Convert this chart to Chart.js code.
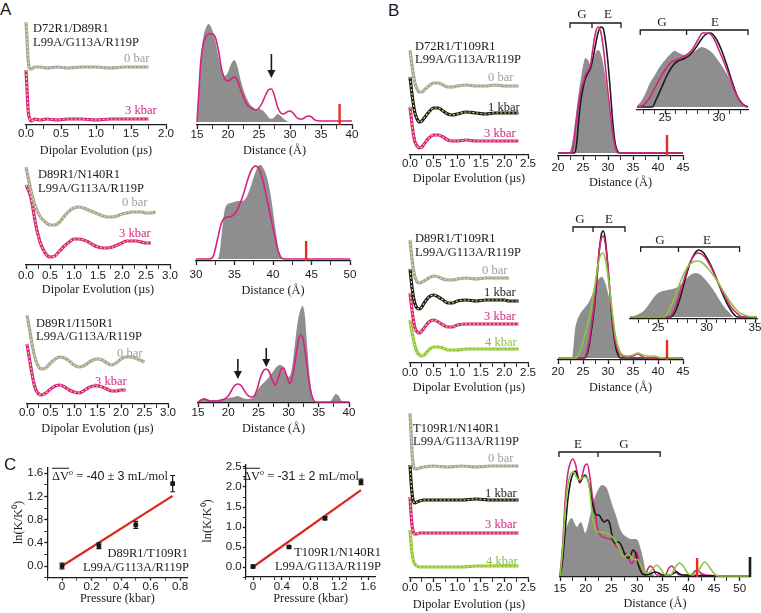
<!DOCTYPE html>
<html>
<head>
<meta charset="utf-8">
<script src="https://cdn.jsdelivr.net/npm/chart.js@4.4.0/dist/chart.umd.min.js"></script>
<style>
  html, body { margin: 0; padding: 0; background: #fff; }
  #fig { position: relative; width: 761px; height: 613px; overflow: hidden; }
  #fig canvas { position: absolute; }
  .t { position: absolute; white-space: nowrap; line-height: 1; font-family: "Liberation Serif", "Times New Roman", serif; font-size: 12.5px; color: #1a1a1a; }
  .panel { font-family: "Liberation Sans", Arial, sans-serif; font-size: 17px; }
  .sans { font-family: "Liberation Sans", Arial, sans-serif; }
  .t sup { font-size: 8px; vertical-align: 5px; line-height: 0; }
</style>
</head>
<body>
<div id="fig"></div>
<script>
// ---------- data ----------
// A, D72R1/D89R1: dipolar evolution (us) and offset echo traces
const a1T = [0, 0.015, 0.03, 0.05, 0.08, 0.12, 0.2, 0.3, 0.45, 0.6, 0.8, 1.0, 1.2, 1.4, 1.6, 1.75];
const a1Bar0 = [1.03, 0.85, 0.65, 0.57, 0.56, 0.58, 0.58, 0.57, 0.58, 0.57, 0.58, 0.58, 0.57, 0.58, 0.58, 0.58];
const a1Kbar3 = [0.55, 0.35, 0.15, 0.07, 0.04, 0.06, 0.05, 0.06, 0.05, 0.06, 0.06, 0.05, 0.06, 0.06, 0.06, 0.06];
// distance distributions (A)
const a1GrayR = [15, 15.3, 15.6, 16, 16.5, 16.9, 17.4, 18, 18.5, 19, 19.5, 20, 20.5, 21, 21.5, 22, 22.5, 23, 23.5, 24, 24.5, 25, 25.5, 26, 26.5, 27, 27.5, 28, 28.5, 29, 29.5, 30, 40];
const a1GrayP = [0, 0.3, 0.62, 0.84, 0.95, 0.98, 0.93, 0.8, 0.64, 0.52, 0.46, 0.5, 0.58, 0.62, 0.56, 0.43, 0.32, 0.24, 0.18, 0.15, 0.13, 0.13, 0.12, 0.09, 0.05, 0.03, 0.05, 0.08, 0.06, 0.03, 0.01, 0, 0];
const a1PinkR = [15, 15.3, 15.6, 16, 16.5, 17, 17.5, 18, 18.5, 19, 19.5, 20, 20.5, 21, 21.5, 22, 22.5, 23, 23.5, 24, 24.5, 25, 25.5, 26, 26.5, 27, 27.5, 28, 28.5, 29, 29.5, 30, 30.5, 31, 31.5, 32, 32.5, 33, 33.5, 34, 35, 40];
const a1PinkP = [0, 0.3, 0.6, 0.78, 0.86, 0.88, 0.88, 0.84, 0.7, 0.52, 0.43, 0.41, 0.43, 0.45, 0.42, 0.33, 0.25, 0.18, 0.15, 0.13, 0.12, 0.14, 0.19, 0.26, 0.32, 0.33, 0.26, 0.15, 0.09, 0.08, 0.1, 0.11, 0.09, 0.05, 0.03, 0.03, 0.05, 0.06, 0.05, 0.02, 0.01, 0.01];
const a1Arrows = [27];
const a1Ca = 38;

// A, D89R1/N140R1
const a2T = [0, 0.1, 0.2, 0.3, 0.4, 0.5, 0.6, 0.7, 0.8, 0.9, 1.0, 1.1, 1.2, 1.3, 1.4, 1.5, 1.6, 1.7, 1.8, 1.9, 2.0, 2.1, 2.2, 2.3, 2.4, 2.5, 2.6, 2.7];
const a2Bar0 = [0.98, 0.75, 0.58, 0.48, 0.43, 0.40, 0.40, 0.43, 0.49, 0.54, 0.57, 0.58, 0.57, 0.55, 0.53, 0.51, 0.49, 0.48, 0.48, 0.49, 0.51, 0.52, 0.53, 0.53, 0.53, 0.52, 0.52, 0.53];
const a2Kbar3 = [0.80, 0.68, 0.41, 0.22, 0.12, 0.08, 0.09, 0.14, 0.19, 0.23, 0.26, 0.26, 0.25, 0.23, 0.20, 0.18, 0.17, 0.17, 0.18, 0.20, 0.22, 0.24, 0.24, 0.24, 0.23, 0.22, 0.22];
const a2GrayR = [30, 32.8, 33.1, 33.4, 33.7, 34, 34.5, 35, 35.5, 36, 36.5, 37, 37.5, 38, 38.4, 38.8, 39.2, 39.6, 40, 40.4, 40.8, 41.2, 50];
const a2GrayP = [0, 0, 0.08, 0.3, 0.48, 0.54, 0.56, 0.57, 0.58, 0.58, 0.61, 0.7, 0.82, 0.92, 0.94, 0.9, 0.82, 0.68, 0.48, 0.25, 0.07, 0, 0];
const a2PinkR = [30, 31.8, 32.3, 32.8, 33.3, 33.7, 34.2, 34.7, 35.2, 35.7, 36.2, 36.7, 37.2, 37.7, 38.2, 38.7, 39.2, 39.7, 40.2, 40.6, 41, 41.5, 50];
const a2PinkP = [0, 0, 0.04, 0.2, 0.36, 0.41, 0.42, 0.43, 0.47, 0.55, 0.66, 0.79, 0.89, 0.93, 0.9, 0.78, 0.6, 0.42, 0.24, 0.1, 0.02, 0, 0];
const a2Ca = 44.3;

// A, D89R1/I150R1
const a3T = [0, 0.05, 0.1, 0.15, 0.2, 0.25, 0.3, 0.4, 0.5, 0.6, 0.7, 0.8, 0.9, 1.0, 1.1, 1.2, 1.3, 1.4, 1.5, 1.6, 1.7, 1.8, 1.9, 2.0, 2.1, 2.2, 2.3, 2.4, 2.5];
const a3Bar0 = [0.89, 0.76, 0.62, 0.50, 0.42, 0.37, 0.35, 0.36, 0.41, 0.45, 0.47, 0.46, 0.43, 0.39, 0.37, 0.38, 0.41, 0.44, 0.45, 0.44, 0.41, 0.39, 0.41, 0.45, 0.47, 0.47, 0.46, 0.44, 0.42];
const a3Kbar3 = [0.60, 0.46, 0.32, 0.20, 0.13, 0.10, 0.09, 0.11, 0.15, 0.18, 0.19, 0.17, 0.14, 0.12, 0.11, 0.13, 0.16, 0.18, 0.18, 0.17, 0.15, 0.13, 0.13, 0.14, 0.14];
const a3GrayR = [15, 15.5, 16, 16.5, 17, 18, 19, 20, 21, 21.5, 22, 23, 24, 24.5, 25, 25.5, 26, 26.5, 27, 27.5, 28, 28.5, 29, 29.5, 30, 30.5, 31, 31.5, 32, 32.3, 32.7, 33, 33.5, 34, 34.5, 36.8, 37.3, 37.8, 38.3, 38.8, 40];
const a3GrayP = [0, 0.02, 0.04, 0.03, 0.02, 0.02, 0.03, 0.04, 0.05, 0.06, 0.05, 0.03, 0.04, 0.08, 0.13, 0.17, 0.2, 0.23, 0.27, 0.31, 0.35, 0.37, 0.36, 0.3, 0.25, 0.32, 0.55, 0.8, 0.93, 0.96, 0.86, 0.62, 0.25, 0.05, 0, 0, 0.04, 0.08, 0.06, 0.01, 0];
const a3PinkR = [15, 15.5, 16, 16.5, 17, 18, 19, 20, 20.5, 21, 21.6, 22.2, 22.7, 23.2, 23.8, 24.3, 24.8, 25.3, 25.8, 26.3, 26.8, 27.3, 27.8, 28.3, 28.8, 29.2, 29.7, 30.2, 30.7, 31.2, 31.6, 32, 32.4, 32.8, 33.2, 33.6, 34, 34.5, 40];
const a3PinkP = [0, 0.02, 0.03, 0.02, 0.01, 0.01, 0.02, 0.06, 0.11, 0.16, 0.18, 0.16, 0.11, 0.07, 0.05, 0.06, 0.13, 0.24, 0.31, 0.33, 0.3, 0.22, 0.17, 0.24, 0.33, 0.34, 0.26, 0.18, 0.27, 0.46, 0.61, 0.67, 0.63, 0.48, 0.28, 0.12, 0.04, 0, 0];
const a3Arrows = [21.6, 26.3];

// B, D72R1/T109R1
const b1T = [0, 0.05, 0.1, 0.15, 0.2, 0.25, 0.3, 0.4, 0.5, 0.6, 0.7, 0.8, 0.9, 1.0, 1.2, 1.4, 1.6, 1.8, 2.0, 2.3];
const b1Bar0 = [1.05, 0.87, 0.73, 0.66, 0.63, 0.63, 0.65, 0.69, 0.72, 0.72, 0.70, 0.68, 0.68, 0.69, 0.70, 0.69, 0.69, 0.70, 0.69, 0.69];
const b1Kbar1 = [0.78, 0.58, 0.43, 0.36, 0.33, 0.34, 0.37, 0.43, 0.47, 0.47, 0.44, 0.41, 0.40, 0.41, 0.43, 0.42, 0.41, 0.42, 0.42, 0.42];
const b1Kbar3 = [0.48, 0.28, 0.14, 0.09, 0.07, 0.08, 0.11, 0.17, 0.20, 0.20, 0.18, 0.15, 0.14, 0.14, 0.15, 0.14, 0.14, 0.14, 0.14, 0.14];
const b1GrayR = [20, 22.2, 22.6, 23, 23.5, 24, 24.5, 25, 25.5, 26, 26.5, 27, 27.5, 28, 28.5, 29, 29.5, 30, 30.5, 31, 31.5, 32, 32.5, 45];
const b1GrayP = [0, 0, 0.05, 0.15, 0.35, 0.55, 0.72, 0.87, 0.95, 0.93, 0.88, 0.92, 1.0, 1.03, 1.0, 0.9, 0.75, 0.55, 0.35, 0.2, 0.08, 0.02, 0, 0];
const b1BlackR = [20, 23.3, 23.7, 24.1, 24.5, 25, 25.5, 26, 26.5, 27, 27.5, 28, 28.5, 29, 29.5, 30, 30.5, 31, 31.5, 32, 32.5, 45];
const b1BlackP = [0, 0, 0.08, 0.3, 0.5, 0.65, 0.75, 0.8, 0.85, 0.95, 1.08, 1.2, 1.26, 1.25, 1.12, 0.9, 0.6, 0.28, 0.08, 0.01, 0, 0];
const b1PinkR = [20, 22.7, 23.1, 23.5, 24, 24.5, 25, 25.5, 26, 26.5, 27, 27.5, 28, 28.5, 29, 29.5, 30, 30.5, 31, 31.5, 32, 45];
const b1PinkP = [0, 0, 0.08, 0.25, 0.45, 0.6, 0.7, 0.78, 0.82, 0.88, 1.05, 1.2, 1.26, 1.22, 1.08, 0.85, 0.6, 0.38, 0.18, 0.05, 0, 0];
const b1InGrayR = [22.4, 22.8, 23.2, 23.6, 24, 24.5, 25, 25.5, 25.9, 26.3, 26.8, 27.3, 27.8, 28.4, 28.9, 29.4, 29.9, 30.4, 30.9, 31.4, 31.9, 32.3, 32.7];
const b1InGrayP = [0.01, 0.06, 0.14, 0.24, 0.31, 0.4, 0.47, 0.53, 0.56, 0.54, 0.52, 0.53, 0.56, 0.6, 0.58, 0.54, 0.47, 0.39, 0.3, 0.19, 0.08, 0.03, 0.01];
const b1InPinkR = [22.4, 23, 23.5, 24, 24.5, 25, 25.5, 26, 26.5, 27, 27.5, 28, 28.5, 29, 29.5, 30, 30.5, 31, 31.5, 32, 32.4, 32.7];
const b1InPinkP = [0, 0.02, 0.08, 0.18, 0.28, 0.37, 0.44, 0.47, 0.49, 0.52, 0.57, 0.66, 0.74, 0.74, 0.69, 0.57, 0.44, 0.3, 0.15, 0.05, 0.01, 0];
const b1InBlackR = [22.4, 23.8, 24.2, 24.7, 25.2, 25.7, 26.2, 26.7, 27.2, 27.7, 28.2, 28.7, 29.2, 29.7, 30.2, 30.7, 31.2, 31.7, 32.2, 32.7];
const b1InBlackP = [0, 0, 0.08, 0.2, 0.32, 0.41, 0.46, 0.48, 0.51, 0.57, 0.65, 0.72, 0.74, 0.69, 0.58, 0.43, 0.26, 0.11, 0.03, 0];
const b1Ca = 41.8;
const b1Bracket = [22.4, 26.8, 32.6];
const b1InBracket = [22.7, 27.0, 32.7];

// B, D89R1/T109R1
const b2T = [0, 0.05, 0.1, 0.15, 0.2, 0.25, 0.3, 0.4, 0.5, 0.6, 0.7, 0.8, 0.9, 1.0, 1.2, 1.4, 1.6, 1.8, 2.0, 2.1, 2.3];
const b2Bar0 = [1.23, 1.01, 0.87, 0.81, 0.80, 0.81, 0.82, 0.85, 0.87, 0.86, 0.84, 0.83, 0.83, 0.84, 0.85, 0.84, 0.85, 0.85, 0.85, 0.85];
const b2Kbar1 = [0.94, 0.73, 0.60, 0.55, 0.54, 0.56, 0.60, 0.66, 0.68, 0.66, 0.63, 0.60, 0.60, 0.62, 0.63, 0.62, 0.63, 0.63, 0.63, 0.62, 0.62];
const b2Kbar3 = [0.70, 0.50, 0.36, 0.31, 0.30, 0.32, 0.35, 0.41, 0.43, 0.41, 0.38, 0.36, 0.36, 0.38, 0.39, 0.39, 0.39, 0.39, 0.39, 0.39, 0.39];
const b2Kbar4 = [0.43, 0.29, 0.18, 0.11, 0.08, 0.07, 0.08, 0.13, 0.16, 0.16, 0.15, 0.13, 0.13, 0.13, 0.14, 0.14, 0.14, 0.14, 0.14, 0.14, 0.14];
const b2GrayR = [20, 22.8, 23.1, 23.4, 23.8, 24.3, 24.8, 25.3, 25.8, 26.3, 26.8, 27.3, 27.8, 28.3, 28.8, 29.3, 29.8, 30.3, 30.8, 31.3, 31.8, 32.3, 32.8, 45];
const b2GrayP = [0, 0, 0.12, 0.28, 0.37, 0.43, 0.47, 0.5, 0.53, 0.57, 0.63, 0.7, 0.76, 0.8, 0.81, 0.77, 0.69, 0.58, 0.43, 0.25, 0.1, 0.03, 0, 0];
const b2BlackR = [20, 25.3, 25.8, 26.3, 26.8, 27.3, 27.8, 28.3, 28.8, 29.1, 29.5, 30, 30.5, 31, 31.5, 32, 32.5, 45];
const b2BlackP = [0, 0, 0.04, 0.15, 0.32, 0.52, 0.8, 1.1, 1.26, 1.27, 1.17, 0.9, 0.58, 0.3, 0.12, 0.03, 0, 0];
const b2PinkR = [20, 25.2, 25.7, 26.2, 26.7, 27.2, 27.7, 28.2, 28.7, 29.1, 29.5, 30, 30.5, 31, 31.5, 32, 32.5, 33.5, 35, 36, 37, 38, 45];
const b2PinkP = [0, 0, 0.05, 0.16, 0.33, 0.52, 0.78, 1.05, 1.2, 1.22, 1.13, 0.9, 0.6, 0.34, 0.16, 0.07, 0.03, 0.01, 0.02, 0.04, 0.01, 0, 0];
const b2GreenR = [20, 23.6, 24, 24.5, 25, 25.5, 26, 26.5, 27, 27.5, 28, 28.5, 29, 29.5, 30, 30.5, 31, 31.5, 32, 32.5, 33, 34, 35, 36, 37, 38, 39, 40, 41, 45];
const b2GreenP = [0, 0, 0.02, 0.08, 0.16, 0.25, 0.35, 0.46, 0.6, 0.77, 0.93, 1.03, 1.05, 0.98, 0.82, 0.62, 0.4, 0.22, 0.12, 0.05, 0.03, 0.02, 0.03, 0.05, 0.03, 0.02, 0.02, 0.01, 0, 0];
const b2InGrayR = [22.1, 22.5, 23, 23.5, 24, 24.5, 25, 25.5, 26, 26.5, 27, 27.5, 28, 28.5, 28.9, 29.4, 29.9, 30.4, 30.9, 31.4, 31.9, 32.4, 32.8, 35.2];
const b2InGrayP = [0, 0.01, 0.03, 0.06, 0.12, 0.19, 0.24, 0.26, 0.27, 0.28, 0.3, 0.34, 0.39, 0.43, 0.44, 0.42, 0.37, 0.31, 0.24, 0.16, 0.09, 0.04, 0, 0];
const b2InBlackR = [22.1, 26.3, 26.8, 27.3, 27.8, 28.3, 28.8, 29.2, 29.7, 30.2, 30.7, 31.2, 31.7, 32.2, 32.7, 33.2, 35.2];
const b2InBlackP = [0, 0, 0.06, 0.2, 0.38, 0.54, 0.64, 0.67, 0.64, 0.56, 0.46, 0.34, 0.22, 0.12, 0.04, 0, 0];
const b2InPinkR = [22.1, 26.1, 26.6, 27.1, 27.6, 28.1, 28.6, 29.1, 29.6, 30.1, 30.6, 31.1, 31.6, 32.1, 32.6, 33.1, 33.7, 35.2];
const b2InPinkP = [0, 0, 0.06, 0.19, 0.35, 0.5, 0.6, 0.64, 0.62, 0.56, 0.47, 0.36, 0.26, 0.17, 0.09, 0.04, 0, 0];
const b2InGreenR = [22.1, 25.6, 26.1, 26.6, 27.1, 27.6, 28.1, 28.6, 29.1, 29.6, 30.1, 30.6, 31.1, 31.6, 32.1, 32.6, 33.1, 33.6, 34.2, 35.2];
const b2InGreenP = [0, 0, 0.06, 0.17, 0.3, 0.42, 0.51, 0.55, 0.56, 0.54, 0.49, 0.43, 0.36, 0.28, 0.2, 0.13, 0.07, 0.03, 0.01, 0];
const b2Ca = 41.8;
const b2Bracket = [23.0, 27.0, 33.4];
const b2InBracket = [23.2, 27.1, 33.4];

// B, T109R1/N140R1
const b3T = [0, 0.02, 0.04, 0.06, 0.08, 0.1, 0.15, 0.2, 0.3, 0.5, 0.8, 1.1, 1.4, 1.7, 2.0, 2.3];
const b3Bar0 = [1.65, 1.48, 1.28, 1.16, 1.11, 1.09, 1.09, 1.10, 1.11, 1.12, 1.11, 1.12, 1.11, 1.12, 1.12, 1.12];
const b3Kbar1 = [1.13, 0.98, 0.86, 0.79, 0.76, 0.75, 0.76, 0.77, 0.78, 0.78, 0.78, 0.78, 0.79, 0.78, 0.78, 0.78];
const b3Kbar3 = [0.81, 0.66, 0.54, 0.48, 0.45, 0.44, 0.44, 0.45, 0.45, 0.45, 0.45, 0.45, 0.45, 0.45, 0.45, 0.45];
const b3Kbar4 = [0.48, 0.36, 0.26, 0.20, 0.16, 0.14, 0.12, 0.11, 0.11, 0.11, 0.11, 0.11, 0.12, 0.12, 0.12, 0.12];
const b3GrayR = [15, 15.5, 16, 16.5, 17, 17.3, 17.8, 18.3, 18.7, 19.1, 19.5, 19.9, 20.3, 20.8, 21.3, 21.8, 22.5, 23.2, 23.7, 24.1, 24.7, 25.3, 26, 26.5, 27.1, 28, 28.8, 29.6, 30.1, 30.6, 31.2, 31.9, 32.5, 33, 33.5, 40, 40.5, 41, 41.5, 42, 42.5, 43, 43.5, 44, 44.5, 52];
const b3GrayP = [0, 0.2, 0.43, 0.52, 0.57, 0.58, 0.53, 0.49, 0.52, 0.54, 0.49, 0.43, 0.48, 0.59, 0.7, 0.79, 0.87, 0.91, 0.9, 0.88, 0.79, 0.69, 0.59, 0.5, 0.43, 0.39, 0.37, 0.37, 0.36, 0.29, 0.17, 0.02, 0.03, 0.02, 0, 0, 0.02, 0.01, 0.02, 0.01, 0.02, 0.01, 0.01, 0.01, 0, 0];
const b3PinkR = [15, 15.5, 16, 16.5, 17, 17.5, 18, 18.5, 18.8, 19.3, 19.8, 20.3, 20.8, 21.3, 21.8, 22.2, 22.5, 23, 24, 24.5, 25.3, 25.8, 26.5, 27, 27.5, 28, 28.5, 29, 29.4, 29.9, 30.4, 31, 31.6, 32.2, 32.6, 33.2, 33.8, 35.5, 36.2, 36.8, 37.4, 38.2, 40.5, 41.3, 41.8, 42.4, 43.3, 52];
const b3PinkP = [0, 0.3, 0.75, 1.02, 1.13, 1.17, 1.12, 1.0, 0.93, 1.0, 1.1, 1.12, 1.0, 0.8, 0.66, 0.5, 0.44, 0.4, 0.38, 0.37, 0.36, 0.3, 0.28, 0.22, 0.22, 0.23, 0.16, 0.12, 0.16, 0.24, 0.14, 0.02, 0.02, 0.08, 0.1, 0.07, 0.01, 0.01, 0.08, 0.1, 0.06, 0.01, 0.01, 0.05, 0.06, 0.03, 0.01, 0];
const b3BlackR = [15, 15.5, 16, 16.5, 17, 17.5, 18, 18.5, 18.9, 19.4, 19.9, 20.3, 20.8, 21.3, 21.8, 22.2, 22.6, 23.1, 23.6, 24.2, 24.7, 25.3, 25.8, 26.4, 27, 27.6, 28.2, 28.7, 29.2, 29.7, 30.2, 30.8, 31.5, 32.5, 33.5, 34.2, 35, 36.5, 37.2, 37.7, 38.3, 39, 52];
const b3BlackP = [0, 0.15, 0.45, 0.75, 0.93, 1.02, 1.05, 0.98, 0.94, 0.98, 1.01, 0.98, 0.88, 0.73, 0.63, 0.61, 0.61, 0.57, 0.54, 0.56, 0.52, 0.36, 0.33, 0.34, 0.3, 0.22, 0.18, 0.2, 0.26, 0.23, 0.12, 0.04, 0.01, 0.02, 0.04, 0.03, 0.01, 0.01, 0.03, 0.04, 0.02, 0.01, 0];
const b3GreenR = [15, 15.5, 16, 16.5, 17, 17.6, 18.2, 18.8, 19.3, 19.8, 20.3, 20.8, 21.3, 21.8, 22.3, 23, 24, 25, 26, 26.5, 27, 27.6, 28.2, 28.7, 29.2, 30.2, 30.8, 31.4, 32.2, 33, 33.8, 34.6, 35.5, 36.5, 37.5, 38.3, 39, 40, 41, 42, 43.2, 44.2, 45.3, 46, 52];
const b3GreenP = [0, 0.25, 0.65, 0.9, 1.01, 1.04, 0.99, 0.96, 0.98, 0.99, 0.98, 0.85, 0.6, 0.48, 0.44, 0.44, 0.43, 0.4, 0.33, 0.28, 0.22, 0.19, 0.22, 0.2, 0.17, 0.16, 0.1, 0.04, 0.03, 0.07, 0.11, 0.07, 0.01, 0.01, 0.09, 0.13, 0.1, 0.02, 0.01, 0.06, 0.14, 0.08, 0.01, 0, 0];
const b3Ca = 41.7;
const b3End = 52;
const b3Bracket = [14.8, 22.4, 34.5];

// C, ln(K/K0) against pressure (kbar)
const c1P = [0, 0.25, 0.5, 0.75];
const c1LnK = [0.0, 0.35, 0.71, 1.42];
const c1Err = [0.05, 0.05, 0.06, 0.14];
const c1FitP = [0, 0.75];
const c1FitLnK = [0, 1.21];
const c2P = [0, 0.5, 1.0, 1.5];
const c2LnK = [0.01, 0.5, 1.22, 2.13];
const c2Err = [0.03, 0.03, 0.04, 0.07];
const c2FitP = [0, 1.5];
const c2FitLnK = [0, 1.92];

// tick labels
const ticksDip2 = [0, 0.5, 1.0, 1.5, 2.0];
const ticksDip25 = [0, 0.5, 1.0, 1.5, 2.0, 2.5];
const ticksDip3 = [0, 0.5, 1.0, 1.5, 2.0, 2.5, 3.0];
const ticksR1540 = [15, 20, 25, 30, 35, 40];
const ticksR3050 = [30, 35, 40, 45, 50];
const ticksR2045 = [20, 25, 30, 35, 40, 45];
const ticksR1550 = [15, 20, 25, 30, 35, 40, 45, 50];
const ticksIn1 = [25, 30];
const ticksIn2 = [25, 30, 35];
const ticksC1x = [0, 0.2, 0.4, 0.6, 0.8];
const ticksC1y = [0, 0.4, 0.8, 1.2, 1.6];
const ticksC2x = [0, 0.4, 0.8, 1.2, 1.6];
const ticksC2y = [0, 0.5, 1.0, 1.5, 2.0, 2.5];

// ---------- styling ----------
const SERIF = '"Liberation Serif", "Times New Roman", serif';
const SANS = '"Liberation Sans", Arial, sans-serif';
const TICK = 11.6;
const COL = {
  gray: '#a3a3a3', pink: '#d6237f', black: '#1b1b1b', green: '#8cc63e',
  fill: '#8e8e8e', red: '#e0301e', fit: '#ece86c', ink: '#1a1a1a'
};
const fig = document.getElementById('fig');

function pts(xs, ys) {
  return ys.map((y, i) => ({ x: xs[i], y }));
}
function minorOf(major, step, lo, hi) {
  const out = [];
  for (let v = lo; v <= hi + 1e-9; v += step) {
    const r = Math.round(v * 1000) / 1000;
    if (!major.some(m => Math.abs(m - r) < 1e-6)) out.push(r);
  }
  return out;
}

// thick data trace with the dashed fit on top
function trace(xs, ys, color) {
  return [
    { data: pts(xs, ys), borderColor: COL.fit, borderWidth: 1.1, borderDash: [2, 2], order: 1 },
    { data: pts(xs, ys), borderColor: color, borderWidth: 3.2, order: 2 }
  ];
}
function area(xs, ys) {
  return { data: pts(xs, ys), fill: 'origin', backgroundColor: COL.fill, borderWidth: 0, order: 9 };
}
function curve(xs, ys, color, order) {
  return { data: pts(xs, ys), borderColor: color, borderWidth: 1.6, order: order || 3 };
}
function mark(x, y0, y1, color, w) {
  return { data: [{ x, y: y0 }, { x, y: y1 }], borderColor: color, borderWidth: w || 2.4, order: 0 };
}

// brackets, arrows and error bars, all placed through the chart scales
const extras = {
  id: 'extras',
  afterDatasetsDraw(chart, args, o) {
    const { ctx } = chart;
    const xs = chart.scales.x, ys = chart.scales.y;
    ctx.save();
    ctx.strokeStyle = COL.ink;
    ctx.fillStyle = COL.ink;
    ctx.lineWidth = 1.3;
    (o.brackets || []).forEach(b => {
      const py = ys.getPixelForValue(b.y);
      const p = b.x.map(v => xs.getPixelForValue(v));
      ctx.beginPath();
      ctx.moveTo(p[0], py + 5); ctx.lineTo(p[0], py); ctx.lineTo(p[2], py); ctx.lineTo(p[2], py + 5);
      ctx.moveTo(p[1], py); ctx.lineTo(p[1], py + 5);
      ctx.stroke();
    });
    (o.arrows || []).forEach(a => {
      const px = xs.getPixelForValue(a.x);
      const y0 = ys.getPixelForValue(a.from), y1 = ys.getPixelForValue(a.to);
      ctx.lineWidth = 1.6;
      ctx.beginPath(); ctx.moveTo(px, y0); ctx.lineTo(px, y1 - 6); ctx.stroke();
      ctx.beginPath(); ctx.moveTo(px - 4, y1 - 8); ctx.lineTo(px + 4, y1 - 8); ctx.lineTo(px, y1); ctx.closePath(); ctx.fill();
    });
    if (o.errors) {
      const e = o.errors;
      ctx.lineWidth = 1.2;
      e.x.forEach((xv, i) => {
        const px = xs.getPixelForValue(xv);
        const top = ys.getPixelForValue(e.y[i] + e.e[i]), bot = ys.getPixelForValue(e.y[i] - e.e[i]);
        ctx.beginPath();
        ctx.moveTo(px, top); ctx.lineTo(px, bot);
        ctx.moveTo(px - 2.5, top); ctx.lineTo(px + 2.5, top);
        ctx.moveTo(px - 2.5, bot); ctx.lineTo(px + 2.5, bot);
        ctx.stroke();
      });
    }
    ctx.restore();
  }
};

// one chart on its own canvas; b = plot box in page pixels
function makeChart(b, xo, yo, datasets, extra) {
  const tl = xo.tl || 4;
  const W = yo.w || 0;
  const top = b.t !== undefined ? b.t : b.b - (yo.max - yo.min) * 100;
  const H = b.ty ? b.ty - b.b + 7.4 : b.ly - b.b + 9;
  const cl = Math.floor(b.l - W - (W ? 2 : 14));
  const ct = Math.floor(top - 8);
  const cw = Math.ceil(b.r + 14) - cl;
  const ch = Math.ceil(b.b + H) - ct;
  const padL = b.l - W - cl, padR = cw - (b.r - cl), padT = top - ct;
  const Hx = ch - (b.b - ct);
  const cv = document.createElement('canvas');
  cv.width = cw; cv.height = ch;
  cv.style.left = cl + 'px'; cv.style.top = ct + 'px';
  fig.appendChild(cv);

  const xTicks = xo.major.concat(xo.minor || []).sort((p, q) => p - q);
  const fmt = xo.fmt || (v => String(v));
  const x = {
    type: 'linear', min: xo.min, max: xo.max,
    afterBuildTicks: s => { s.ticks = xTicks.map(v => ({ value: v })); },
    afterFit: s => { s.height = Hx; },
    ticks: {
      autoSkip: false, maxRotation: 0, padding: b.ly - b.b - tl - TICK * 0.6,
      font: { family: SANS, size: TICK }, color: COL.ink,
      callback: v => xo.major.includes(v) ? fmt(v) : ''
    },
    grid: { drawOnChartArea: false, drawTicks: true, tickLength: tl, color: COL.ink,
            tickWidth: c => (c.tick && xo.major.includes(c.tick.value)) ? 1.3 : 0.9 },
    border: { display: true, color: COL.ink, width: 1.3 },
    title: { display: !!xo.title, text: xo.title || '', font: { family: SERIF, size: 12.3 }, color: COL.ink, padding: 0 }
  };
  let y;
  if (yo.w) {
    const yTicks = yo.major.concat(yo.minor || []).sort((p, q) => p - q);
    y = {
      min: yo.min, max: yo.max, position: 'left',
      afterBuildTicks: s => { s.ticks = yTicks.map(v => ({ value: v })); },
      afterFit: s => { s.width = W; },
      ticks: { autoSkip: false, padding: 1, font: { family: SANS, size: TICK }, color: COL.ink,
               callback: v => yo.major.includes(v) ? v.toFixed(1) : '' },
      grid: { drawOnChartArea: false, drawTicks: true, tickLength: 3, color: COL.ink,
              tickWidth: c => (c.tick && yo.major.includes(c.tick.value)) ? 1.3 : 0.9 },
      border: { display: true, color: COL.ink, width: 1.3 },
      title: { display: true, text: yo.title, font: { family: SERIF, size: 12.5 }, color: COL.ink, padding: 0 }
    };
  } else {
    y = { display: false, min: yo.min, max: yo.max };
  }

  return new Chart(cv, {
    type: 'line',
    data: { datasets },
    options: {
      responsive: false, animation: false, events: [],
      layout: { padding: { left: padL, right: padR, top: padT, bottom: 0 } },
      datasets: { line: { clip: 12, pointRadius: 0 } },
      elements: { line: { cubicInterpolationMode: 'monotone', borderJoinStyle: 'round', fill: false } },
      plugins: { legend: { display: false }, tooltip: { enabled: false }, extras: extra || {} },
      scales: { x, y }
    },
    plugins: [extras]
  });
}

const f1 = v => v.toFixed(1);
const fC = v => v === 0 ? '0' : v.toFixed(1);
const DIP = 'Dipolar Evolution (\u00b5s)';
const DIST = 'Distance (\u00c5)';

// ---------- panel A ----------
makeChart({ l: 26, r: 166, b: 125, ly: 134, ty: 150 },
  { min: 0, max: 2.0, major: ticksDip2, minor: minorOf(ticksDip2, 0.25, 0, 2), fmt: f1, title: DIP },
  { min: 0, max: 1.08 },
  [...trace(a1T, a1Bar0, COL.gray), ...trace(a1T, a1Kbar3, COL.pink)]);
makeChart({ l: 197, r: 352, b: 125, ly: 135, ty: 150 },
  { min: 15, max: 40, major: ticksR1540, minor: minorOf(ticksR1540, 2.5, 15, 40), title: DIST },
  { min: -0.03, max: 1.0 },
  [mark(a1Ca, -0.03, 0.18, COL.red), curve(a1PinkR, a1PinkP, COL.pink), area(a1GrayR, a1GrayP)],
  { arrows: a1Arrows.map(x => ({ x, from: 0.68, to: 0.44 })) });

makeChart({ l: 26, r: 170, b: 265, ly: 276, ty: 289 },
  { min: 0, max: 3.0, major: ticksDip3, minor: minorOf(ticksDip3, 0.25, 0, 3), fmt: f1, title: DIP },
  { min: 0, max: 1.02 },
  [...trace(a2T, a2Bar0, COL.gray), ...trace(a2T, a2Kbar3, COL.pink)]);
makeChart({ l: 196, r: 350, b: 261, ly: 275, ty: 290 },
  { min: 30, max: 50, major: ticksR3050, minor: minorOf(ticksR3050, 2.5, 30, 50), title: DIST },
  { min: -0.02, max: 1.0 },
  [mark(a2Ca, -0.02, 0.18, COL.red), curve(a2PinkR, a2PinkP, COL.pink), area(a2GrayR, a2GrayP)]);

makeChart({ l: 27, r: 168, b: 404, ly: 413, ty: 428 },
  { min: 0, max: 3.0, major: ticksDip3, minor: minorOf(ticksDip3, 0.25, 0, 3), fmt: f1, title: DIP },
  { min: 0, max: 0.93 },
  [...trace(a3T, a3Bar0, COL.gray), ...trace(a3T, a3Kbar3, COL.pink)]);
makeChart({ l: 198, r: 349, b: 403, ly: 413, ty: 428 },
  { min: 15, max: 40, major: ticksR1540, minor: minorOf(ticksR1540, 2.5, 15, 40), title: DIST },
  { min: -0.01, max: 1.0 },
  [curve(a3PinkR, a3PinkP, COL.pink), area(a3GrayR, a3GrayP)],
  { arrows: [{ x: a3Arrows[0], from: 0.43, to: 0.23 }, { x: a3Arrows[1], from: 0.54, to: 0.35 }] });

// ---------- panel B ----------
makeChart({ l: 410, r: 528, b: 155, ly: 164, ty: 178 },
  { min: 0, max: 2.5, major: ticksDip25, minor: minorOf(ticksDip25, 0.25, 0, 2.5), fmt: f1, title: DIP },
  { min: 0, max: 1.08 },
  [...trace(b1T, b1Bar0, COL.gray), ...trace(b1T, b1Kbar1, COL.black), ...trace(b1T, b1Kbar3, COL.pink)]);
makeChart({ l: 558, r: 683, b: 156, ly: 168, ty: 182 },
  { min: 20, max: 45, major: ticksR2045, minor: minorOf(ticksR2045, 2.5, 20, 45), title: DIST },
  { min: -0.03, max: 1.42 },
  [mark(b1Ca, -0.03, 0.18, COL.red), curve(b1PinkR, b1PinkP, COL.pink, 3), curve(b1BlackR, b1BlackP, COL.black, 4), area(b1GrayR, b1GrayP)],
  { brackets: [{ x: b1Bracket, y: 1.30 }] });
makeChart({ l: 637, r: 748, b: 110, ly: 118 },
  { min: 22.4, max: 32.7, major: ticksIn1, minor: minorOf(ticksIn1, 1, 23, 32) },
  { min: -0.03, max: 0.8 },
  [curve(b1InPinkR, b1InPinkP, COL.pink, 3), curve(b1InBlackR, b1InBlackP, COL.black, 4), area(b1InGrayR, b1InGrayP)],
  { brackets: [{ x: b1InBracket, y: 0.77 }] });

makeChart({ l: 410, r: 528, b: 363, ly: 373, ty: 387 },
  { min: 0, max: 2.5, major: ticksDip25, minor: minorOf(ticksDip25, 0.25, 0, 2.5), fmt: f1, title: DIP },
  { min: 0, max: 1.26 },
  [...trace(b2T, b2Bar0, COL.gray), ...trace(b2T, b2Kbar1, COL.black), ...trace(b2T, b2Kbar3, COL.pink), ...trace(b2T, b2Kbar4, COL.green)]);
makeChart({ l: 558, r: 683, b: 360, ly: 372, ty: 387 },
  { min: 20, max: 45, major: ticksR2045, minor: minorOf(ticksR2045, 2.5, 20, 45), title: DIST },
  { min: -0.02, max: 1.35 },
  [mark(b2Ca, -0.02, 0.18, COL.red), curve(b2GreenR, b2GreenP, COL.green, 3), curve(b2PinkR, b2PinkP, COL.pink, 4),
   curve(b2BlackR, b2BlackP, COL.black, 5), area(b2GrayR, b2GrayP)],
  { brackets: [{ x: b2Bracket, y: 1.31 }] });
makeChart({ l: 630, r: 757, b: 319, ly: 328 },
  { min: 22.1, max: 35.2, major: ticksIn2, minor: minorOf(ticksIn2, 1, 23, 34) },
  { min: -0.02, max: 0.72 },
  [curve(b2InGreenR, b2InGreenP, COL.green, 3), curve(b2InPinkR, b2InPinkP, COL.pink, 4),
   curve(b2InBlackR, b2InBlackP, COL.black, 5), area(b2InGrayR, b2InGrayP)],
  { brackets: [{ x: b2InBracket, y: 0.70 }] });

makeChart({ l: 410, r: 528, b: 578, ly: 588, ty: 604 },
  { min: 0, max: 2.5, major: ticksDip25, minor: minorOf(ticksDip25, 0.25, 0, 2.5), fmt: f1, title: DIP },
  { min: 0, max: 1.68 },
  [...trace(b3T, b3Bar0, COL.gray), ...trace(b3T, b3Kbar1, COL.black), ...trace(b3T, b3Kbar3, COL.pink), ...trace(b3T, b3Kbar4, COL.green)]);
makeChart({ l: 560, r: 750, b: 577, ly: 589, ty: 603 },
  { min: 15, max: 52, major: ticksR1550, minor: minorOf(ticksR1550, 2.5, 15, 50), title: DIST },
  { min: -0.01, max: 1.27 },
  [mark(b3Ca, -0.01, 0.18, COL.red), mark(b3End, -0.01, 0.19, COL.black, 2.6),
   curve(b3GreenR, b3GreenP, COL.green, 3), curve(b3BlackR, b3BlackP, COL.black, 4),
   curve(b3PinkR, b3PinkP, COL.pink, 5), area(b3GrayR, b3GrayP)],
  { brackets: [{ x: b3Bracket, y: 1.24 }] });

// ---------- panel C ----------
function cSets(px, py, fx, fy) {
  return [
    { data: pts(px, py), showLine: false, pointRadius: 2.6, pointStyle: 'rect', pointBackgroundColor: '#111', pointBorderColor: '#111', order: 0 },
    { data: pts(fx, fy), borderColor: '#d9291c', borderWidth: 2.2, tension: 0, cubicInterpolationMode: 'default', order: 1 }
  ];
}
makeChart({ l: 47.3, r: 187.4, t: 467.4, b: 577.6, ly: 587, ty: 598 },
  { min: -0.1, max: 0.85, major: ticksC1x, minor: minorOf(ticksC1x, 0.1, -0.1, 0.8), fmt: fC, title: 'Pressure (kbar)', tl: 3 },
  { min: -0.2, max: 1.7, w: 35.8, major: ticksC1y, minor: minorOf(ticksC1y, 0.2, -0.2, 1.6), title: 'ln(K/K\u2070)' },
  cSets(c1P, c1LnK, c1FitP, c1FitLnK),
  { errors: { x: c1P, y: c1LnK, e: c1Err } });
makeChart({ l: 245.8, r: 375.4, t: 465, b: 577, ly: 587, ty: 598 },
  { min: -0.1, max: 1.7, major: ticksC2x, minor: minorOf(ticksC2x, 0.2, -0.1, 1.6), fmt: fC, title: 'Pressure (kbar)', tl: 3 },
  { min: -0.25, max: 2.55, w: 46, major: ticksC2y, minor: minorOf(ticksC2y, 0.25, -0.25, 2.5), title: 'ln(K/K\u2070)' },
  cSets(c2P, c2LnK, c2FitP, c2FitLnK),
  { errors: { x: c2P, y: c2LnK, e: c2Err } });

// ---------- text ----------
function txt(html, x, y, o) {
  o = o || {};
  const d = document.createElement('div');
  d.className = 't' + (o.cls ? ' ' + o.cls : '');
  d.innerHTML = html;
  d.style.left = x + 'px';
  d.style.top = y + 'px';
  const tx = o.align === 'right' ? '-100%' : o.align === 'center' ? '-50%' : '0';
  d.style.transform = 'translate(' + tx + ', -50%)';
  if (o.color) d.style.color = o.color;
  if (o.size) d.style.fontSize = o.size + 'px';
  fig.appendChild(d);
}
const MUT = 'L99A/G113A/R119P';
const gray = { color: '#9e9e9e' }, pink = { color: COL.pink }, green = { color: '#86c037' };

txt('A', 0, 9, { cls: 'panel' });
txt('B', 388, 10, { cls: 'panel' });
txt('C', 4, 464, { cls: 'panel' });

txt('D72R1/D89R1', 33, 28); txt(MUT, 33, 42);
txt('0 bar', 124, 58, gray); txt('3 kbar', 125, 110, pink);
txt('D89R1/N140R1', 38, 174); txt(MUT, 38, 188);
txt('0 bar', 122, 202, gray); txt('3 kbar', 119, 233, pink);
txt('D89R1/I150R1', 36, 323); txt(MUT, 36, 336);
txt('0 bar', 117, 353, gray); txt('3 kbar', 95, 381, pink);

txt('D72R1/T109R1', 415, 46); txt(MUT, 415, 59);
txt('0 bar', 488, 77, gray); txt('1 kbar', 488, 107); txt('3 kbar', 484, 133, pink);
txt('D89R1/T109R1', 415, 238); txt(MUT, 415, 252);
txt('0 bar', 482, 270, gray); txt('1 kbar', 484, 292); txt('3 kbar', 484, 316, pink); txt('4 kbar', 485, 342, green);
txt('T109R1/N140R1', 413, 428); txt(MUT, 413, 441);
txt('0 bar', 488, 458, gray); txt('1 kbar', 485, 493); txt('3 kbar', 485, 524, pink); txt('4 kbar', 486, 561, green);

txt('G', 582, 13, { align: 'center', size: 13 }); txt('E', 608, 13, { align: 'center', size: 13 });
txt('G', 662, 21, { align: 'center', size: 13 }); txt('E', 715, 21, { align: 'center', size: 13 });
txt('G', 580, 218, { align: 'center', size: 13 }); txt('E', 609, 218, { align: 'center', size: 13 });
txt('G', 660, 239, { align: 'center', size: 13 }); txt('E', 707, 239, { align: 'center', size: 13 });
txt('E', 578, 443, { align: 'center', size: 13 }); txt('G', 624, 443, { align: 'center', size: 13 });

txt('<span style="text-decoration:overline">\u0394V</span><sup>o</sup> = <span class="sans">-40</span> \u00b1 <span class="sans">3</span> mL/mol', 52, 476);
txt('D89R1/T109R1', 188, 553, { align: 'right' }); txt(MUT, 189, 567, { align: 'right' });
txt('<span style="text-decoration:overline">\u0394V</span><sup>o</sup> = <span class="sans">-31</span> \u00b1 <span class="sans">2</span> mL/mol', 243, 476);
txt('T109R1/N140R1', 381, 552, { align: 'right' }); txt(MUT, 381, 566, { align: 'right' });
</script>
</body>
</html>
